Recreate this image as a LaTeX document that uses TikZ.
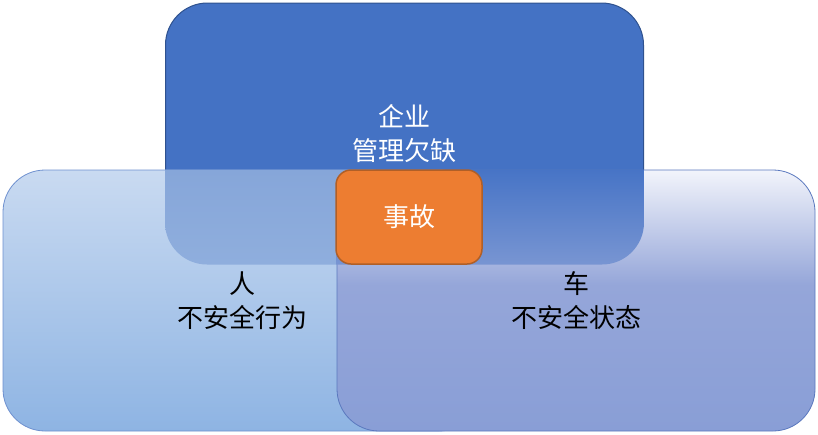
\documentclass[tikz,border=0pt]{standalone}
\usepackage{fontspec}
\newfontfamily\cjk{Noto Sans CJK SC}
\definecolor{topblue}{HTML}{4472C4}
\definecolor{topedge}{HTML}{2F528F}
\definecolor{lefttop}{HTML}{C9DAF1}
\definecolor{leftbot}{HTML}{8EB4E3}
\definecolor{leftedge}{HTML}{6E90CF}
\definecolor{righttop}{HTML}{F2F4FB}
\definecolor{rightmid}{HTML}{95A6D9}
\definecolor{rightbot}{HTML}{899ED6}
\definecolor{rightedge}{HTML}{5A78BE}
\definecolor{ltA}{HTML}{86A6D9}
\definecolor{ltB}{HTML}{8FAEDD}
\definecolor{rtA}{HTML}{4774C6}
\definecolor{rtB}{HTML}{7895D2}
\definecolor{orangefill}{HTML}{ED7D31}
\definecolor{orangeedge}{HTML}{B05F27}
\pgfdeclareverticalshading{rightshade}{100bp}{color(0bp)=(rightbot); color(25bp)=(rightbot);
  color(53bp)=(rightmid); color(75bp)=(righttop); color(100bp)=(righttop)}
\begin{document}
\begin{tikzpicture}[x=1pt,y=-1pt,
  bigbox/.style={minimum width=478pt,minimum height=261pt,rounded corners=42pt,
    inner sep=0pt,align=center,font=\cjk\fontsize{26}{34}\selectfont},
  smallbox/.style={minimum width=146pt,minimum height=94pt,rounded corners=15pt,
    inner sep=0pt,align=center,font=\cjk\fontsize{26}{34}\selectfont,
    fill=orangefill,draw=orangeedge,line width=1.5pt,text=white}]
\useasboundingbox (0,0) rectangle (818,434);
% top box
\node[bigbox,fill=topblue,draw=topedge,line width=1pt,text=white] (mgmt) at (404.5,133.5) {企业\\管理欠缺};
% left box
\node[bigbox,top color=lefttop,bottom color=leftbot,draw=leftedge,line width=0.8pt,text=black] (person) at (242,300.5) {人\\不安全行为};
\begin{scope}
  \clip[rounded corners=42pt] (mgmt.north west) rectangle (mgmt.south east);
  \clip[rounded corners=42pt] (person.north west) rectangle (person.south east);
  \path[top color=ltA,bottom color=ltB] (person.north west) rectangle (mgmt.south east);
\end{scope}
% right box
\node[bigbox,shade,shading=rightshade,draw=rightedge,line width=0.8pt,text=black] (vehicle) at (576,300.5) {车\\不安全状态};
\begin{scope}
  \clip[rounded corners=42pt] (mgmt.north west) rectangle (mgmt.south east);
  \clip[rounded corners=42pt] (vehicle.north west) rectangle (vehicle.south east);
  \path[top color=rtA,bottom color=rtB] (vehicle.north west) rectangle (mgmt.south east);
\end{scope}
% centre
\node[smallbox] (accident) at (409,217) {事故};
\end{tikzpicture}
\end{document}
